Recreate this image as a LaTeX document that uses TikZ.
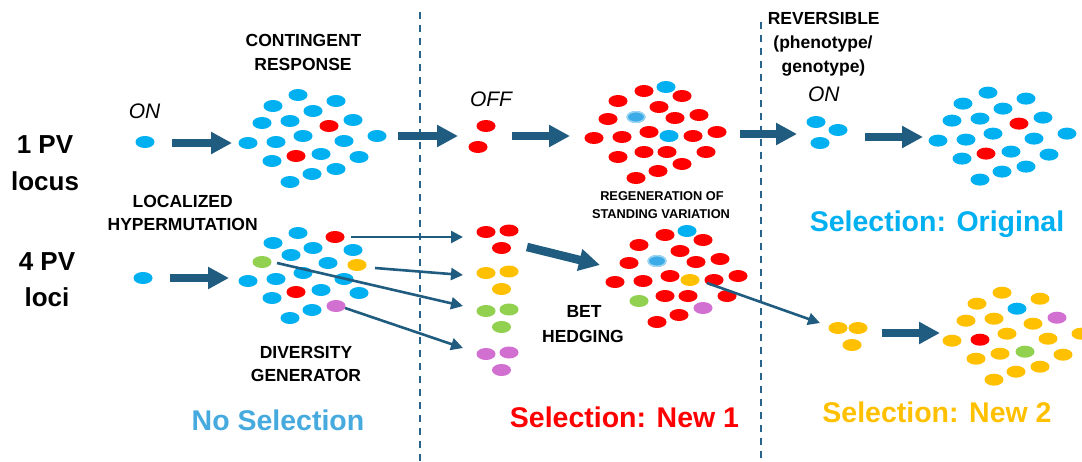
\documentclass[tikz,border=0pt]{standalone}
\usepackage{fontspec}
\setmainfont{Liberation Sans}
\usetikzlibrary{shapes.geometric,arrows.meta}

\definecolor{cblue}{RGB}{0,176,240}
\definecolor{cred}{RGB}{255,0,0}
\definecolor{corange}{RGB}{255,192,0}
\definecolor{cgreen}{RGB}{146,208,80}
\definecolor{cmag}{RGB}{210,112,210}
\definecolor{clb}{RGB}{60,172,232}
\definecolor{clhalo}{RGB}{160,214,242}
\definecolor{arrowc}{RGB}{31,92,128}
\definecolor{dashc}{RGB}{40,100,140}
\definecolor{cnosel}{RGB}{70,170,222}

\tikzset{
  cell/.style={ellipse, minimum width=19pt, minimum height=12pt, inner sep=0pt, draw=none},
  halo/.style={cell, fill=clb, draw=clhalo, line width=1.4pt, minimum width=17.6pt, minimum height=10.6pt},
  bigarrow/.style={draw=arrowc, line width=8.5pt, -{Triangle[width=21pt,length=21pt]}},
  thinarrow/.style={draw=arrowc, line width=2.6pt, -{Triangle[width=12pt,length=12pt]}},
  divider/.style={draw=dashc, line width=1.6pt, dash pattern=on 7pt off 6pt},
  lbl/.style={font=\bfseries\fontsize{17.5}{21}\selectfont, anchor=base, inner sep=0pt},
  lblsmall/.style={font=\bfseries\fontsize{12.8}{15}\selectfont, anchor=base, inner sep=0pt},
  lblbig/.style={font=\bfseries\fontsize{26}{30}\selectfont, anchor=base, inner sep=0pt},
  state/.style={font=\itshape\fontsize{21}{25}\selectfont, anchor=base, inner sep=0pt},
  sel/.style={font=\bfseries\fontsize{28.5}{32}\selectfont, anchor=base, inner sep=0pt}
}

\begin{document}
\begin{tikzpicture}[x=1pt, y=-1pt]
\fill[white] (0,0) rectangle (1082,461);
\useasboundingbox (0,0) rectangle (1082,461);

% column dividers
\coordinate (d1t) at (420,12);  \coordinate (d1b) at (420,461);
\coordinate (d2t) at (761,22);  \coordinate (d2b) at (761,461);
\draw[divider] (d1t) -- (d1b);
\draw[divider] (d2t) -- (d2b);

% row labels
\node[lblbig] (pv1) at (45,153) {1 PV};
\node[lblbig] (pv1b) at (45,190) {locus};
\node[lblbig] (pv4) at (47,270) {4 PV};
\node[lblbig] (pv4b) at (47,306.7) {loci};

% single founders
\node[cell, fill=cblue] (s1) at (145,142) {};
\node[cell, fill=cblue] (s4) at (143,278) {};

% top-left population: contingent response
\foreach \x/\y/\c [count=\i] in {298/95/cblue,336/101/cblue,273/106/cblue,313/111/cblue,290/121/cblue,262/123/cblue,329/126/cred,353/120/cblue,303/136/cblue,377/136/cblue,248/143/cblue,276/142/cblue,344/141/cblue,296/156/cred,321/154/cblue,359/157/cblue,272/161/cblue,336/169/cblue,312/174/cblue,290/182/cblue}
  \node[cell, fill=\c] (tl\i) at (\x,\y) {};

% top-right population
\begin{scope}[shift={(690,-2.4)}]
\foreach \x/\y/\c [count=\i] in {298/95/cblue,336/101/cblue,273/106/cblue,313/111/cblue,290/121/cblue,262/123/cblue,329/126/cred,353/120/cblue,303/136/cblue,377/136/cblue,248/143/cblue,276/142/cblue,344/141/cblue,296/156/cred,321/154/cblue,359/157/cblue,272/161/cblue,336/169/cblue,312/174/cblue,290/182/cblue}
  \node[cell, fill=\c] (tr\i) at (\x,\y) {};
\end{scope}

% bottom-right population
\begin{scope}[shift={(704,197.7)}]
\foreach \x/\y/\c [count=\i] in {298/95/corange,336/101/corange,273/106/corange,313/111/cblue,290/121/corange,262/123/corange,329/126/corange,353/120/cmag,303/136/corange,377/136/corange,248/143/corange,276/142/cred,344/141/corange,296/156/corange,321/154/cgreen,359/157/corange,272/161/corange,336/169/corange,312/174/corange,290/182/corange}
  \node[cell, fill=\c] (br\i) at (\x,\y) {};
\end{scope}

% top-middle population
\foreach \x/\y/\c [count=\i] in {644/91/cred,666/87/cblue,682/96/cred,618/101/cred,659/107/cred,608/119/cred,636/117/clb,675/118/cred,699/115/cred,649/132/cred,669/136/cblue,594/138/cred,622/137/cred,693/136/cred,717/132/cred,618/157/cred,644/152/cred,667/152/cred,706/152/cred,682/164/cred,658/171/cred,636/178/cred}
  \node[cell, fill=\c] (tm\i) at (\x,\y) {};
\node[halo] (tmh) at (tm7) {};

% bottom-middle population: standing variation
\begin{scope}[shift={(21,144)}]
\foreach \x/\y/\c [count=\i] in {644/91/cred,666/87/cblue,682/96/cred,618/101/cred,659/107/cred,608/119/cred,636/117/clb,675/118/cred,699/115/cred,649/132/cred,669/136/corange,594/138/cred,622/137/cred,693/136/cred,717/132/cred,618/157/cgreen,644/152/cred,667/152/cred,706/152/cred,682/164/cmag,658/171/cred,636/178/cred}
  \node[cell, fill=\c] (bm\i) at (\x,\y) {};
\end{scope}
\node[halo] (bmh) at (bm7) {};

% bottom-left population: diversity generator
\foreach \x/\y/\c [count=\i] in {298/233/cblue,335/237/cred,273/243/cblue,313/248/cblue,353/250/cblue,291/255/cblue,262/262/cgreen,328/263/cblue,357/265/corange,303/273/cblue,248/281/cblue,276/279/cblue,344/279/cblue,296/292/cred,321/290/cblue,359/293/cblue,272/298/cblue,336/306/cmag,312/310/cblue,290/318/cblue}
  \node[cell, fill=\c] (bl\i) at (\x,\y) {};

% small groups
\node[cell, fill=cred] (of1) at (486,126) {};
\node[cell, fill=cred] (of2) at (478,147) {};
\node[cell, fill=cblue] (rv1) at (816,122) {};
\node[cell, fill=cblue] (rv2) at (838,130) {};
\node[cell, fill=cblue] (rv3) at (820,143) {};
\foreach \n/\c/\y in {rs/cred/232,os/corange/273,gs/cgreen/311,ms/cmag/354}{
  \node[cell, fill=\c] (\n1) at (486,\y) {};
  \node[cell, fill=\c] (\n2) at (509,\y-1.5) {};
  \node[cell, fill=\c] (\n3) at (501.5,\y+16) {};
}
\node[cell, fill=corange] (ns1) at (838,328) {};
\node[cell, fill=corange] (ns2) at (858,328) {};
\node[cell, fill=corange] (ns3) at (852,345) {};

% thick arrows
\coordinate (a1s) at (172,143); \coordinate (a1e) at (232,143);
\coordinate (a2s) at (398,136); \coordinate (a2e) at (458,136);
\coordinate (a3s) at (512,136); \coordinate (a3e) at (570,136);
\coordinate (a4s) at (740,134); \coordinate (a4e) at (797,134);
\coordinate (a5s) at (865,137); \coordinate (a5e) at (923,137);
\coordinate (b1s) at (170,278); \coordinate (b1e) at (229,278);
\coordinate (b2s) at (527,247); \coordinate (b2e) at (600,265);
\coordinate (b3s) at (882,333); \coordinate (b3e) at (940,333);
\foreach \p in {a1,a2,a3,a4,a5,b1,b2,b3}
  \draw[bigarrow] (\p s) -- (\p e);

% thin arrows from single variants
\coordinate (t1s) at (351,237); \coordinate (t1e) at (463,237);
\coordinate (t2s) at (375,268); \coordinate (t2e) at (463,275);
\coordinate (t3s) at (277,263); \coordinate (t3e) at (463,306);
\coordinate (t4s) at (345,308); \coordinate (t4e) at (463,348);
\coordinate (t5s) at (707,283); \coordinate (t5e) at (820,323);
\foreach \p in {t1,t2,t3,t4,t5}
  \draw[thinarrow] (\p s) -- (\p e);

% state labels
\node[state] (on1) at (144.5,118.5) {ON};
\node[state] (off) at (491,106.7) {OFF};
\node[state] (on2) at (823.8,101) {ON};

% process labels
\node[lbl] (cont1) at (303.5,46.7) {CONTINGENT};
\node[lbl] (cont2) at (303,70.7) {RESPONSE};
\node[lbl] (rev1) at (823.7,24.5) {REVERSIBLE};
\node[lbl] (rev2) at (823,48.5) {(phenotype/};
\node[lbl] (rev3) at (823.5,72.5) {genotype)};
\node[lbl] (loc1) at (182.7,207.3) {LOCALIZED};
\node[lbl] (loc2) at (182.7,230) {HYPERMUTATION};
\node[lblsmall] (reg1) at (662,200.6) {REGENERATION OF};
\node[lblsmall] (reg2) at (661,218.6) {STANDING VARIATION};
\node[lbl] (bet1) at (584,317.3) {BET};
\node[lbl] (bet2) at (583,342.3) {HEDGING};
\node[lbl] (div1) at (306,358.5) {DIVERSITY};
\node[lbl] (div2) at (306,381) {GENERATOR};

% selection regimes
\node[sel, text=cblue] (selo) at (937,231) {Selection: Original};
\node[sel, text=cnosel] (sel0) at (278,430) {No Selection};
\node[sel, text=cred] (sel1) at (624.5,427) {Selection: New 1};
\node[sel, text=corange] (sel2) at (937,422) {Selection: New 2};
\end{tikzpicture}
\end{document}
